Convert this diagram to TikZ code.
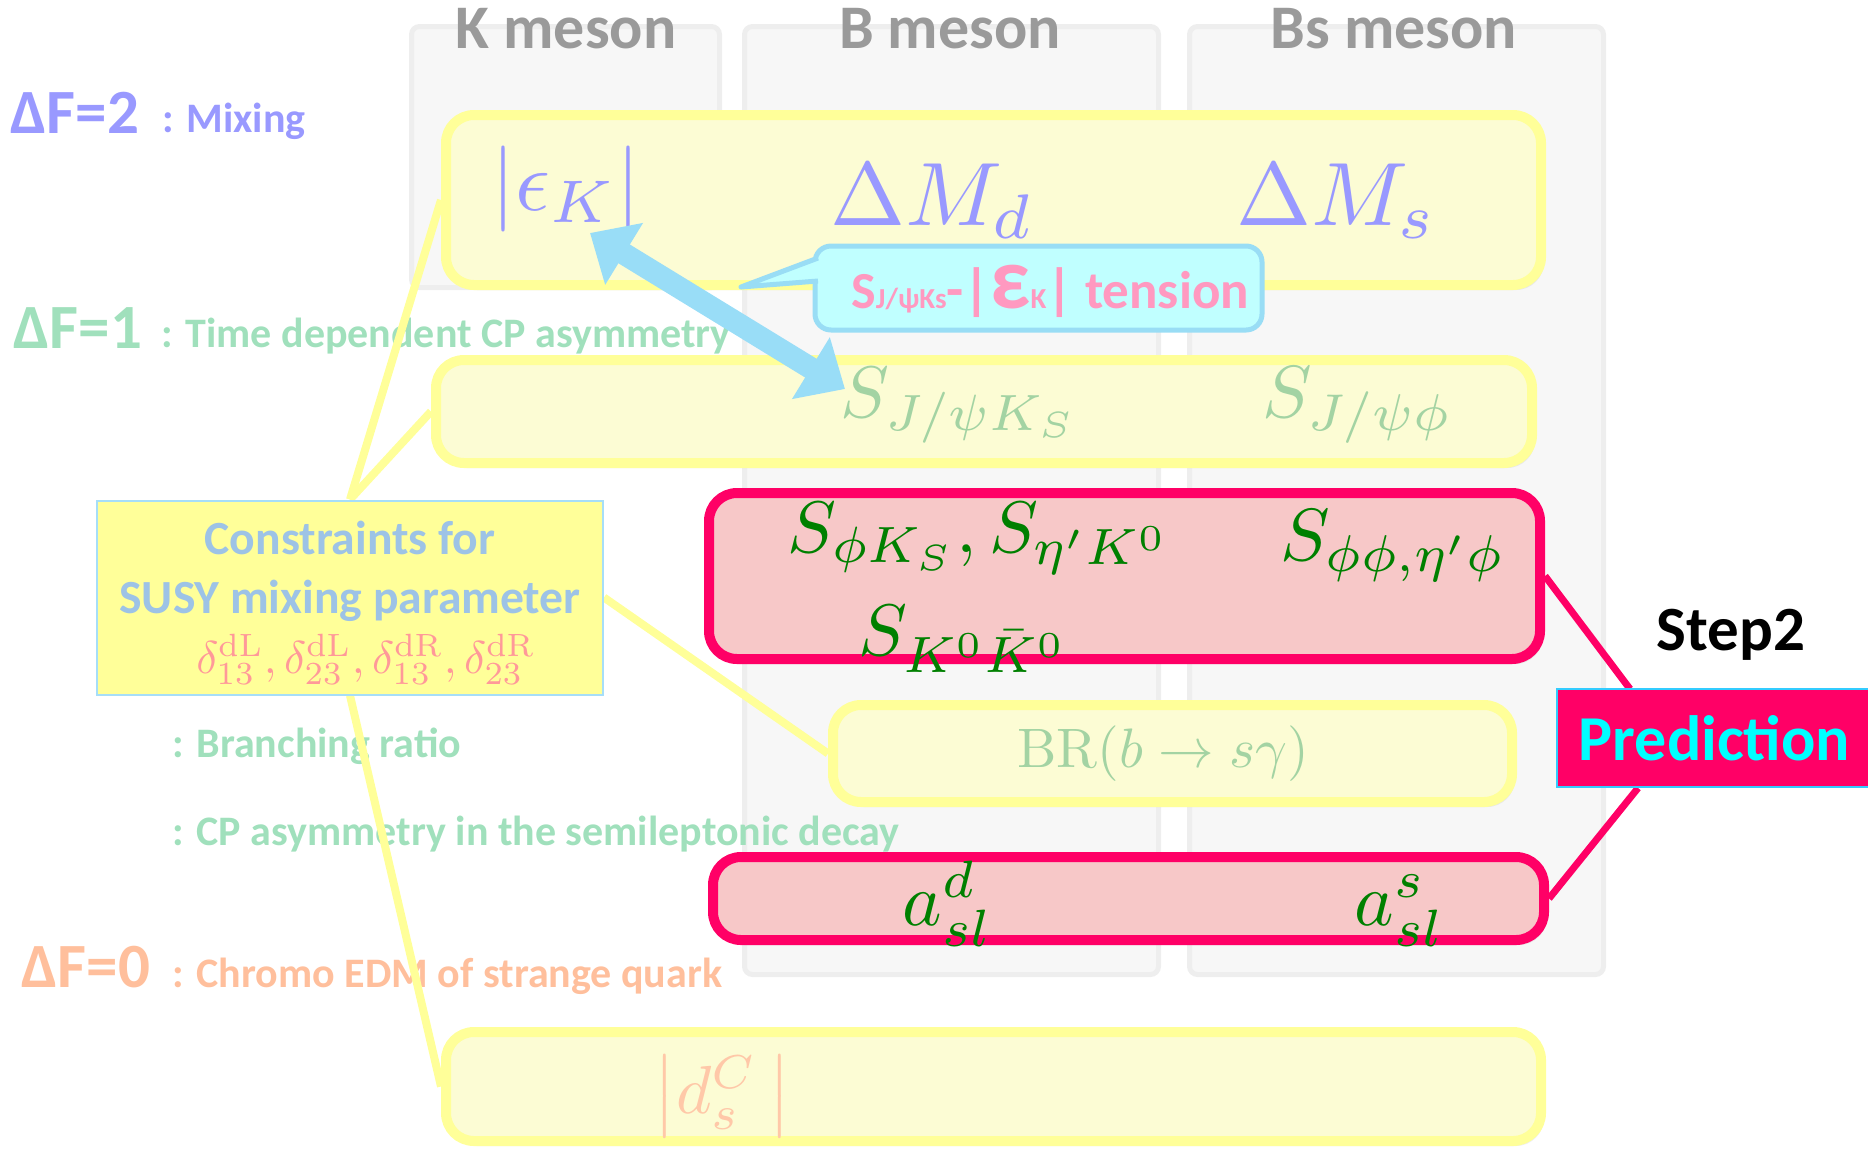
\RequirePackage{fix-cm}
\documentclass[tikz,border=0pt]{standalone}
\usepackage{graphicx}
\usepackage[no-math]{fontspec}
\setmainfont{Carlito}
\usetikzlibrary{arrows.meta,shadows,calc}
\definecolor{colfill}{HTML}{F7F7F7}
\definecolor{colborder}{HTML}{EEEEEE}
\definecolor{labgray}{HTML}{9A9A9A}
\definecolor{yfill}{HTML}{FCFCD4}
\definecolor{yborder}{HTML}{FFFF99}
\definecolor{rfill}{HTML}{F7C8C8}
\definecolor{rborder}{HTML}{FF0066}
\definecolor{purp}{HTML}{9999FF}
\definecolor{lgreen}{HTML}{A0E0BC}
\definecolor{mgreen}{HTML}{A3D3A3}
\definecolor{dgreen}{HTML}{008000}
\definecolor{peach}{HTML}{FFBF9C}
\definecolor{peachm}{HTML}{FFC8A8}
\definecolor{cblue}{HTML}{9DC3E6}
\definecolor{dpink}{HTML}{FF9999}
\definecolor{consfill}{HTML}{FFFF99}
\definecolor{consborder}{HTML}{A6DEF8}
\definecolor{cfill}{HTML}{C0FFFF}
\definecolor{cborder}{HTML}{99DDF5}
\definecolor{arrowblue}{HTML}{99DDF7}
\definecolor{tpink}{HTML}{FF99C0}
\definecolor{predfill}{HTML}{FF0066}
\definecolor{predborder}{HTML}{33CCFF}
\definecolor{predtext}{HTML}{00FFFF}
\pgfdeclarelayer{back}
\pgfdeclarelayer{mid}
\pgfsetlayers{back,mid,main}
\tikzset{
  colbox/.style={draw=colborder, line width=2.5pt, fill=colfill, rounded corners=4pt, inner sep=0pt},
  collab/.style={anchor=base, inner sep=0pt, text=labgray, font=\bfseries\fontsize{31}{31}\selectfont},
  ybox/.style={draw=yborder, line width=5pt, fill=yfill, rounded corners=14pt, inner sep=0pt,
    drop shadow={shadow xshift=1.5pt, shadow yshift=-2.5pt, opacity=0.12}},
  rbox/.style={draw=rborder, line width=5pt, fill=rfill, rounded corners=14pt, inner sep=0pt,
    drop shadow={shadow xshift=1.5pt, shadow yshift=-2.5pt, opacity=0.15}},
  lab/.style={anchor=base west, inner sep=0pt},
  biglab/.style={lab, font=\bfseries\fontsize{31.5}{31.5}\selectfont},
  smalllab/.style={lab, font=\bfseries\fontsize{21}{21}\selectfont},
  mth/.style={anchor=base west, inner sep=0pt, font=\fontsize{10}{12}\selectfont},
  yline/.style={draw=yborder, line width=4pt},
  rline/.style={draw=rborder, line width=3.5pt},
  barrow/.style={draw=arrowblue, line width=11pt,
    {Triangle[length=20pt,width=35pt]}-{Triangle[length=20pt,width=35pt]}},
}
\begin{document}
\begin{tikzpicture}[x=0.5pt,y=-0.5pt]
\useasboundingbox (0,0) rectangle (1868,1148);
\begin{pgfonlayer}{back}
\node[colbox, minimum width=154pt, minimum height=130.5pt] (kcol) at (565.5,157) {};
\node[colbox, minimum width=207pt, minimum height=474pt] (bcol) at (951.5,500.5) {};
\node[colbox, minimum width=207pt, minimum height=474pt] (bscol) at (1396.5,500.5) {};
\node[collab] (klab) at (566,48) {K meson};
\node[collab] (blab) at (950,48) {B meson};
\node[collab] (bslab) at (1394,48) {Bs meson};
\node[biglab, text=purp] (df2) at (10,133) {ΔF=2};
\node[smalllab, text=purp] (mix) at (162,132) {: Mixing};
\node[biglab, text=lgreen] (df1) at (13,348) {ΔF=1};
\node[smalllab, text=lgreen] (tdcp) at (161,347) {: Time dependent CP asymmetry};
\node[smalllab, text=lgreen] (brlab) at (172,757) {: Branching ratio};
\node[smalllab, text=lgreen] (sllab) at (172,845) {: CP asymmetry in the semileptonic decay};
\node[biglab, text=peach] (df0) at (21,987) {ΔF=0};
\node[smalllab, text=peach] (edm) at (172,987) {: Chromo EDM of strange quark};
\end{pgfonlayer}
% boxes
\node[ybox, minimum width=547.5pt, minimum height=85pt] (row1) at (993.5,200) {};
\node[ybox, minimum width=548pt, minimum height=51.5pt] (row2) at (984,411.5) {};
\node[rbox, minimum width=415.5pt, minimum height=83pt] (row3) at (1124.5,576) {};
\node[ybox, minimum width=339.5pt, minimum height=48.5pt] (row4) at (1172.5,753.5) {};
\node[rbox, minimum width=415.5pt, minimum height=41.5pt] (row5) at (1128.5,898.5) {};
\node[ybox, minimum width=547.5pt, minimum height=54.5pt] (row6) at (993.5,1086.5) {};
\node[draw=consborder, line width=1pt, fill=consfill, minimum width=253pt, minimum height=97pt, inner sep=0pt] (cons) at (350,597.5) {};
% connectors
\begin{pgfonlayer}{mid}
\draw[yline] (cons.north) -- (row1.west);
\draw[yline] (cons.north) -- (row2.west);
\draw[yline] (cons.east) -- (row4.west);
\draw[yline] (cons.south) -- (row6.west);
\end{pgfonlayer}
% math contents
\node[mth, text=purp] (epsk) at (491,210) {\scalebox{4.3}{$|\epsilon_K|$}};
\node[mth, text=purp] (dmd) at (830,225) {\scalebox{4.5}{$\Delta M_d$}};
\node[mth, text=purp] (dms) at (1236,225) {\scalebox{4.5}{$\Delta M_s$}};
\node[mth, text=mgreen] (sjk) at (840,417) {\scalebox{3.65}{$S_{J/\psi K_S}$}};
\node[mth, text=mgreen] (sjp) at (1262,417) {\scalebox{3.7}{$S_{J/\psi\phi}$}};
\node[mth, text=dgreen] (sphik) at (787,552) {\scalebox{3.65}{$S_{\phi K_S}, S_{\eta' K^0}$}};
\node[mth, text=dgreen] (sphiphi) at (1280,560) {\scalebox{3.7}{$S_{\phi\phi,\eta'\phi}$}};
\node[mth, text=dgreen] (skk) at (858,655) {\scalebox{3.65}{$S_{K^0\bar K^0}$}};
\node[mth, text=mgreen] (br) at (1017,767) {\scalebox{2.78}{$\mathrm{BR}(b\to s\gamma)$}};
\node[mth, text=dgreen] (ad) at (902,925) {\scalebox{3.75}{$a^d_{sl}$}};
\node[mth, text=dgreen] (as) at (1354,925) {\scalebox{3.75}{$a^s_{sl}$}};
\node[mth, text=peachm] (dc) at (653,1113) {\scalebox{3.4}{$\left|d^C_s\,\right|$}};
% constraints text
\node[anchor=base, inner sep=0pt, text=cblue, font=\bfseries\fontsize{23.8}{23.8}\selectfont] (ct1) at (350,554) {Constraints for};
\node[anchor=base, inner sep=0pt, text=cblue, font=\bfseries\fontsize{23.8}{23.8}\selectfont] (ct2) at (350,613) {SUSY mixing parameter};
\node[anchor=base, inner sep=0pt, text=dpink, font=\fontsize{10}{12}\selectfont] (ct3) at (366,673) {\scalebox{2.3}{$\delta^{\mathrm{dL}}_{13}, \delta^{\mathrm{dL}}_{23}, \delta^{\mathrm{dR}}_{13}, \delta^{\mathrm{dR}}_{23}$}};
% prediction
\node[anchor=base, inner sep=0pt, font=\bfseries\fontsize{31.5}{31.5}\selectfont] (step2) at (1731,650) {Step2};
\node[draw=predborder, line width=1pt, fill=predfill, minimum width=157.5pt, minimum height=49pt, inner sep=0pt, text=predtext, font=\bfseries\fontsize{32}{32}\selectfont] (pred) at (1714.5,738) {Prediction};
\coordinate (ptop) at (1630,689);
\coordinate (pbot) at (1638,788);
\begin{pgfonlayer}{mid}
\draw[rline] (row3.east) -- (ptop);
\draw[rline] (pbot) -- (row5.east);
\end{pgfonlayer}
% blue double arrow
\coordinate (aa) at (590,233);
\coordinate (ab) at (845,389);
\draw[barrow] (aa) -- (ab);
% callout
\node[draw=cborder, line width=2.5pt, fill=cfill, rounded corners=8pt, minimum width=223.5pt, minimum height=42pt, inner sep=0pt] (tension) at (1038.5,288) {};
\coordinate (ctip) at (741,287);
\filldraw[fill=cfill, draw=cborder, line width=2.5pt, line join=round] (818,258) -- (ctip) -- (818,281);
\node[anchor=base west, inner sep=0pt, text=tpink, font=\bfseries] (tenstxt) at (851,308) {{\fontsize{26}{26}\selectfont S}{\fontsize{14.5}{14.5}\selectfont J/ψKs}{\fontsize{28}{28}\selectfont -|}{\fontsize{44}{44}\selectfont ε}{\fontsize{14.5}{14.5}\selectfont K}{\fontsize{28}{28}\selectfont |}{\fontsize{26.5}{26.5}\selectfont\ tension}};
\end{tikzpicture}
\end{document}
